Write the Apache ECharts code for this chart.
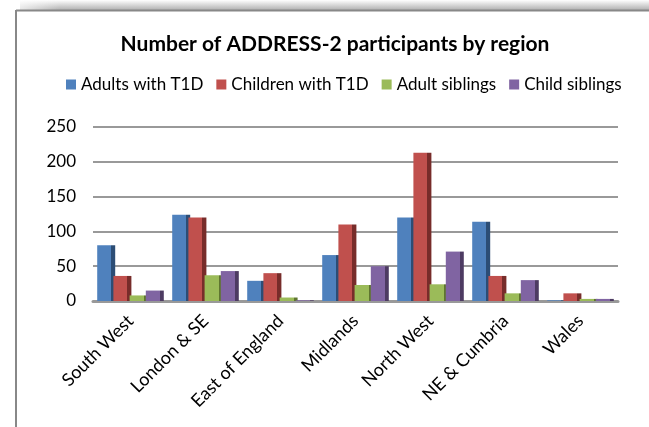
<!DOCTYPE html>
<html><head><meta charset="utf-8">
<script src="https://cdn.jsdelivr.net/npm/echarts@6/dist/echarts.min.js"></script>
<style>html,body{margin:0;padding:0;background:#fff}#c{width:649px;height:427px}</style>
</head><body><div id="c"></div>
<script>
const categories = ['South West','London & SE','East of England','Midlands','North West','NE & Cumbria','Wales'];
const seriesNames = ['Adults with T1D','Children with T1D','Adult siblings','Child siblings'];
const adultsT1D = [80, 124, 29, 66, 120, 114, 1];
const childrenT1D = [36, 120, 40, 110, 213, 36, 11];
const adultSiblings = [8, 37, 5, 23, 24, 11, 3];
const childSiblings = [15, 43, 1, 50, 71, 30, 3];
const yTicks = [0, 50, 100, 150, 200, 250];

const colors = ['#4F81BD','#C0504D','#9BBB59','#8064A2'];
const dark = ['#2C4D75','#772C2A','#5F7530','#4D3B62'];
const dataSets = [adultsT1D, childrenT1D, adultSiblings, childSiblings];
const font = 'Lato, "Open Sans", sans-serif';

const chart = echarts.init(document.getElementById('c'));
chart.setOption({
  animation: false,
  backgroundColor: '#fff',
  title: {
    text: 'Number of ADDRESS-2 participants by region',
    left: 330, top: 29, textAlign: 'center',
    textStyle: {fontFamily: font, fontSize: 21, fontWeight: 'bold', color: '#000'}
  },
  legend: {
    data: seriesNames.map((n, i) => ({name: n, itemStyle: {color: colors[i]}})),
    left: 61, top: 71,
    itemWidth: 10, itemHeight: 10, itemGap: 13, icon: 'rect',
    textStyle: {fontFamily: font, fontSize: 17, color: '#000'}
  },
  grid: {left: 93, right: 31, top: 127, bottom: 126},
  xAxis: {
    type: 'category', data: categories,
    axisLine: {lineStyle: {color: '#999', width: 3}},
    axisTick: {show: false},
    axisLabel: {rotate: 45, fontFamily: font, fontSize: 18, color: '#000', margin: 17, interval: 0}
  },
  yAxis: {
    type: 'value', min: 0, max: 250, interval: 50,
    axisLine: {show: false}, axisTick: {show: false},
    axisLabel: {fontFamily: font, fontSize: 17, color: '#000', margin: 17,
      formatter: v => yTicks.includes(v) ? String(v) : ''},
    splitLine: {lineStyle: {color: '#999', width: 2}}
  },
  graphic: [
    {type: 'rect', shape: {x: 20, y: 0, width: 629, height: 10}, z: 100,
      style: {fill: new echarts.graphic.LinearGradient(0,0,0,1,[{offset:0,color:'#ffffff'},{offset:1,color:'#b0b0b0'}])}},
    {type: 'rect', shape: {x: 0, y: 0, width: 60, height: 10}, z: 101,
      style: {fill: new echarts.graphic.LinearGradient(0,0,1,0,[{offset:0,color:'rgba(255,255,255,1)'},{offset:1,color:'rgba(255,255,255,0)'}])}},
    {type: 'line', shape: {x1: 16, y1: 10.5, x2: 649, y2: 10.5}, z: 102, style: {stroke: '#888', lineWidth: 2}},
    {type: 'line', shape: {x1: 16, y1: 10, x2: 16, y2: 427}, z: 102, style: {stroke: '#888', lineWidth: 2}}
  ],
  series: dataSets.map((d, i) => ({
    name: seriesNames[i], type: 'bar', data: d,
    barWidth: 18, barGap: '-10%',
    itemStyle: {
      color: new echarts.graphic.LinearGradient(0,0,1,0,[
        {offset:0,color:colors[i]},{offset:0.78,color:colors[i]},
        {offset:0.78,color:dark[i]},{offset:1,color:dark[i]}])
    },
    emphasis: {disabled: true}
  }))
});
</script></body></html>
